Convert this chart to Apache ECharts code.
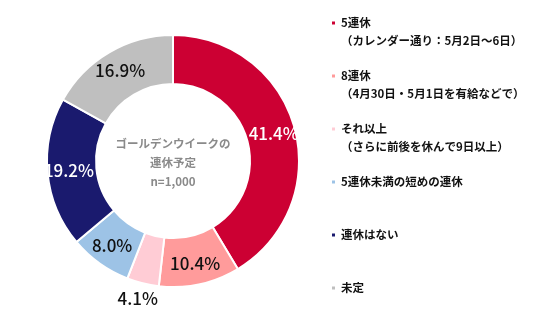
<!DOCTYPE html>
<html><head><meta charset="utf-8">
<script src="https://cdn.jsdelivr.net/npm/echarts@6/dist/echarts.min.js"></script>
<style>html,body{margin:0;padding:0;background:#fff}#c{width:536px;height:321px}</style>
</head><body><div id="c"></div>
<script>
const categories = ['5連休', '8連休', 'それ以上', '5連休未満の短めの連休', '連休はない', '未定'];
const subLabels = ['（カレンダー通り：5月2日～6日）', '（4月30日・5月1日を有給などで）', '（さらに前後を休んで9日以上）', '', '', ''];
const values = [41.4, 10.4, 4.1, 8.0, 19.2, 16.9];
const colors = ['#CC0033', '#FF9B9B', '#FFCCD5', '#9DC3E6', '#1A1A6E', '#BFBFBF'];
const labelColors = ['#ffffff', '#111111', '#111111', '#111111', '#ffffff', '#111111'];
const centerLines = ['ゴールデンウイークの', '連休予定', 'n=1,000'];

const chart = echarts.init(document.getElementById('c'));
const data = categories.map((n, i) => {
  const d = { name: n, value: values[i], itemStyle: { color: colors[i] }, label: { color: labelColors[i] } };
  if (i === 2) {
    d.label.position = 'outside';
    d.label.distanceToLabelLine = -19;
    d.labelLine = { show: false, length: 16, length2: 0 };
  }
  return d;
});
chart.setOption({
  animation: false,
  legend: {
    orient: 'vertical',
    left: 330,
    top: -4,
    padding: 0,
    itemGap: -1,
    itemWidth: 5,
    itemHeight: 5,
    icon: 'rect',
    data: categories,
    formatter: function (name) {
      const i = categories.indexOf(name);
      return '\n' + name + '\n' + subLabels[i];
    },
    textStyle: { fontFamily: 'Noto Sans CJK JP', fontWeight: 'bold', fontSize: 11.5, lineHeight: 18, color: '#111' }
  },
  graphic: [{
    type: 'text', x: 173, y: 163,
    style: { text: centerLines.join('\n'), textAlign: 'center', textVerticalAlign: 'middle',
      fontFamily: 'Noto Sans CJK JP', fontWeight: 'bold', fontSize: 11.5, lineHeight: 19, fill: '#8a8a8a' }
  }],
  series: [{
    type: 'pie',
    center: [173, 161],
    radius: [77, 126],
    startAngle: 90,
    clockwise: true,
    avoidLabelOverlap: false,
    itemStyle: { borderColor: '#fff', borderWidth: 2 },
    label: { show: true, position: 'inside', formatter: p => p.value.toFixed(1) + '%', fontFamily: 'Noto Sans CJK JP', fontWeight: 500, fontSize: 17 },
    labelLine: { show: false },
    data: data
  }]
});
</script></body></html>
